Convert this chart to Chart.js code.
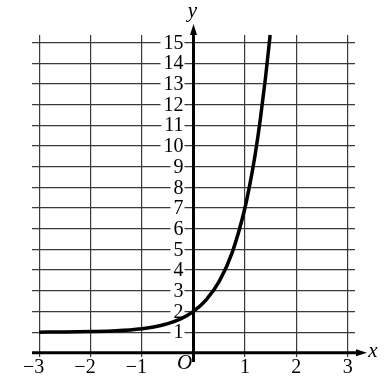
<!DOCTYPE html>
<html>
<head>
<meta charset="utf-8">
<script src="https://cdn.jsdelivr.net/npm/chart.js@4.4.1/dist/chart.umd.min.js"></script>
<style>
  html, body { margin: 0; padding: 0; background: #fff; }
  canvas { display: block; }
</style>
</head>
<body>
<canvas id="graph" width="389" height="389"></canvas>
<script>
// points
const curveX = [-3, -2.5, -2, -1.5, -1, -0.75, -0.5, -0.25, 0, 0.25, 0.5, 0.75, 1, 1.1, 1.2, 1.3, 1.4, 1.49]
const curveY = [1.0, 1.01, 1.03, 1.07, 1.17, 1.26, 1.41, 1.64, 2.0, 2.57, 3.45, 4.83, 7.0, 8.2, 9.6, 11.3, 13.3, 15.36]

const xTicks = [-3, -2, -1, 0, 1, 2, 3]
const yTicks = [0, 1, 2, 3, 4, 5, 6, 7, 8, 9, 10, 11, 12, 13, 14, 15]
const xLabels = ['−3', '−2', '−1', '', '1', '2', '3']
const yLabels = ['', '1', '2', '3', '4', '5', '6', '7', '8', '9', '10', '11', '12', '13', '14', '15']

const serif = '"Liberation Serif", "DejaVu Serif", serif'

// tick labels go before the curve so the curve sits on top
const labelsPlugin = {
    id: 'labels',
    beforeDatasetsDraw(chart) {
        const ctx = chart.ctx
        const xs = chart.scales.x, ys = chart.scales.y
        const x0 = xs.getPixelForValue(0)
        const y0 = ys.getPixelForValue(0)
        ctx.save()
        ctx.font = '20px ' + serif
        ctx.textBaseline = 'middle'
        ctx.textAlign = 'right'
        yTicks.forEach((v, i) => {
            if (!yLabels[i]) return
            const y = ys.getPixelForValue(v)
            const w = ctx.measureText(yLabels[i]).width
            ctx.fillStyle = '#fff'
            ctx.fillRect(x0 - 11 - w - 2, y - 7, w + 4, 14)
            ctx.fillStyle = '#000'
            ctx.fillText(yLabels[i], x0 - 10, y + 1)
        })
        const digitW = ctx.measureText('0').width
        xTicks.forEach((v, i) => {
            if (!xLabels[i]) return
            const x = xs.getPixelForValue(v)
            ctx.fillStyle = '#000'
            ctx.fillText(xLabels[i], x + digitW / 2, y0 + 15)
        })
        ctx.restore()
    },
    afterDatasetsDraw(chart) {
        const ctx = chart.ctx
        const xs = chart.scales.x, ys = chart.scales.y
        const area = chart.chartArea
        const x0 = xs.getPixelForValue(0)
        const y0 = ys.getPixelForValue(0)
        ctx.save()
        ctx.strokeStyle = '#000'
        ctx.fillStyle = '#000'
        ctx.lineWidth = 3
        // x axis
        ctx.beginPath()
        ctx.moveTo(area.left, y0)
        ctx.lineTo(area.right + 4, y0)
        ctx.stroke()
        ctx.beginPath()
        ctx.moveTo(area.right + 12, y0)
        ctx.lineTo(area.right + 1, y0 - 3.5)
        ctx.lineTo(area.right + 1, y0 + 3.5)
        ctx.closePath()
        ctx.fill()
        // y axis
        ctx.beginPath()
        ctx.moveTo(x0, area.bottom + 5)
        ctx.lineTo(x0, area.top - 4)
        ctx.stroke()
        ctx.beginPath()
        ctx.moveTo(x0, area.top - 11)
        ctx.lineTo(x0 - 3.5, area.top)
        ctx.lineTo(x0 + 3.5, area.top)
        ctx.closePath()
        ctx.fill()

        ctx.font = 'italic 21px ' + serif
        ctx.textAlign = 'center'
        ctx.textBaseline = 'middle'
        ctx.fillText('O', x0 - 9, y0 + 11)
        ctx.fillText('x', area.right + 18, y0 - 1)
        ctx.fillText('y', x0 - 1, area.top - 24)
        ctx.restore()
    }
}

new Chart(document.getElementById('graph'), {
    type: 'scatter',
    data: {
        datasets: [{
            data: curveX.map((x, i) => ({ x: x, y: curveY[i] })),
            showLine: true,
            borderColor: '#000',
            borderWidth: 3.5,
            pointRadius: 0,
            cubicInterpolationMode: 'monotone',
            clip: false
        }]
    },
    options: {
        responsive: false,
        animation: false,
        devicePixelRatio: 1,
        layout: { padding: { left: 32, right: 34, top: 35, bottom: 32 } },
        plugins: { legend: { display: false }, tooltip: { enabled: false } },
        scales: {
            x: {
                type: 'linear',
                min: -3.14,
                max: 3.14,
                afterBuildTicks: s => { s.ticks = xTicks.map(v => ({ value: v })) },
                ticks: { display: false },
                border: { display: false },
                grid: { color: '#3a3a3a', lineWidth: 1.2, drawTicks: false }
            },
            y: {
                type: 'linear',
                min: -0.2,
                max: 15.36,
                afterBuildTicks: s => { s.ticks = yTicks.map(v => ({ value: v })) },
                ticks: { display: false },
                border: { display: false },
                grid: { color: '#3a3a3a', lineWidth: 1.2, drawTicks: false }
            }
        }
    },
    plugins: [labelsPlugin]
})
</script>
</body>
</html>
